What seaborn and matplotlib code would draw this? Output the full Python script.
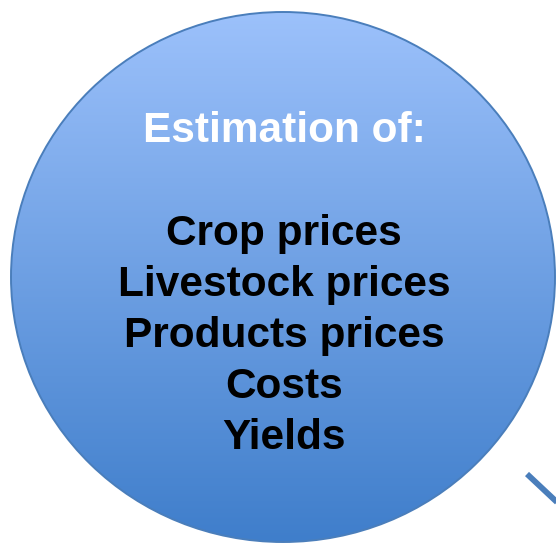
import numpy as np
import matplotlib
matplotlib.use("Agg")
import matplotlib.pyplot as plt
from matplotlib.patches import Ellipse
from matplotlib.colors import LinearSegmentedColormap
import seaborn as sns

sns.set_style("white")
plt.rcParams['font.family'] = ['Liberation Sans', 'DejaVu Sans']

# content
heading = "Estimation of:"
items = ["Crop prices", "Livestock prices", "Products prices", "Costs", "Yields"]

# circle geometry (pixel space)
cx, cy = 283, 277
rx, ry = 272, 265
top_color, bottom_color = "#9cc1fb", "#3f7ecb"
edge_color = "#4a7ebb"

W, H = 556, 544
fig = plt.figure(figsize=(W / 100, H / 100), dpi=100)
ax = fig.add_axes([0, 0, 1, 1])
ax.set_xlim(0, W)
ax.set_ylim(H, 0)
ax.axis("off")

# vertical gradient clipped to the ellipse
cmap = LinearSegmentedColormap.from_list("blue_grad", [top_color, bottom_color])
grad = np.linspace(0, 1, 256).reshape(-1, 1)
img = ax.imshow(grad, cmap=cmap, aspect="auto",
                extent=(cx - rx, cx + rx, cy + ry, cy - ry), zorder=1)
clip = Ellipse((cx, cy), 2 * rx, 2 * ry, transform=ax.transData,
               facecolor="none", edgecolor="none")
ax.add_patch(clip)
img.set_clip_path(clip)
ax.add_patch(Ellipse((cx, cy), 2 * rx, 2 * ry, facecolor="none",
                     edgecolor=edge_color, lw=1.4, zorder=2))

# connector stub at bottom right
ax.plot([527, 560], [474, 505], color=edge_color, lw=4.2,
        solid_capstyle="butt", zorder=2)

ax.text(284, 131, heading, color="white", fontsize=30.5, fontweight="bold",
        ha="center", va="center", zorder=3)
for i, label in enumerate(items):
    ax.text(284, 234 + i * 51, label, color="black", fontsize=30.5,
            fontweight="bold", ha="center", va="center", zorder=3)

fig.savefig("out.png", dpi=100)
